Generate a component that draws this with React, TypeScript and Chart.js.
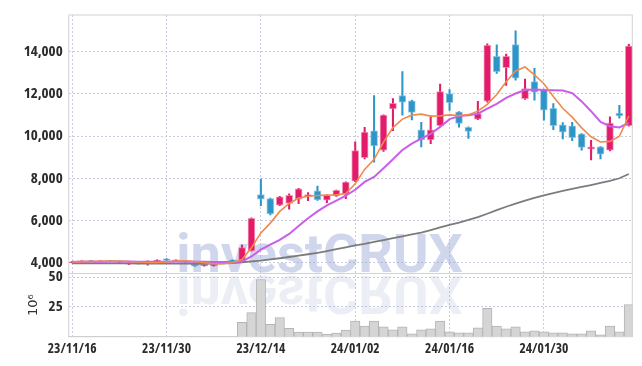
import React, { useEffect, useRef } from 'react';
import { Chart, registerables } from 'chart.js';

Chart.register(...registerables);

const dates = [
  '23/11/16', '23/11/17', '23/11/20', '23/11/21', '23/11/22', '23/11/23', '23/11/24', '23/11/27', '23/11/28', '23/11/29',
  '23/11/30', '23/12/01', '23/12/04', '23/12/05', '23/12/06', '23/12/07', '23/12/08', '23/12/11', '23/12/12', '23/12/13',
  '23/12/14', '23/12/15', '23/12/18', '23/12/19', '23/12/20', '23/12/21', '23/12/22', '23/12/26', '23/12/27', '23/12/28',
  '24/01/02', '24/01/03', '24/01/04', '24/01/05', '24/01/08', '24/01/09', '24/01/10', '24/01/11', '24/01/12', '24/01/15',
  '24/01/16', '24/01/17', '24/01/18', '24/01/19', '24/01/22', '24/01/23', '24/01/24', '24/01/25', '24/01/26', '24/01/29',
  '24/01/30', '24/01/31', '24/02/01', '24/02/02', '24/02/05', '24/02/06', '24/02/07', '24/02/08', '24/02/13', '24/02/14',
];

const opens = [4000, 4030, 4100, 4060, 4090, 4080, 3930, 4010, 3980, 4060, 4180, 4080, 4090, 3950, 3850, 3850, 3980, 4130, 4060, 4558,
  7223, 7037, 6725, 6805, 7005, 7130, 7409, 6958, 7163, 7237, 7860, 8977, 10246, 9330, 11283, 11921, 11674, 10293, 9814, 10493,
  12014, 11144, 10418, 10804, 11655, 13781, 13237, 14339, 11767, 12586, 12200, 11316, 10526, 10479, 10107, 9377, 9488, 9330, 11083, 10493];
const highs = [4060, 4100, 4110, 4100, 4100, 4090, 4000, 4020, 4090, 4130, 4190, 4140, 4100, 3960, 3930, 3940, 4070, 4140, 4837, 6120,
  7967, 7060, 7140, 7260, 7520, 7320, 7628, 7220, 7440, 7830, 9721, 10418, 11921, 11010, 11770, 13051, 11700, 10650, 10958, 12465,
  12200, 11160, 10440, 11650, 14370, 14325, 13880, 14990, 12697, 13209, 12220, 11540, 10640, 10650, 10120, 9800, 9500, 10911, 11456, 14340];
const lows = [3990, 4020, 4050, 4050, 4050, 4000, 3910, 3940, 3880, 4050, 4100, 4070, 4000, 3820, 3830, 3840, 3960, 4050, 4040, 4540,
  6698, 6260, 6700, 6540, 6800, 6940, 6950, 6840, 7140, 7030, 7840, 8912, 8758, 9270, 10260, 10990, 10770, 9490, 9640, 10450,
  11220, 10420, 9890, 10780, 11600, 12970, 12400, 12650, 11740, 11700, 10758, 10300, 9860, 9780, 9330, 8865, 8912, 9300, 10850, 10470];
const closes = [4040, 4090, 4060, 4090, 4060, 4020, 3980, 3960, 4080, 4120, 4110, 4130, 4010, 3840, 3920, 3920, 4060, 4060, 4712, 6107,
  7005, 6307, 7116, 7191, 7502, 7223, 6977, 7191, 7423, 7814, 9316, 10186, 9535, 10990, 11548, 11609, 11116, 9814, 10293, 12107,
  11581, 10604, 10214, 11070, 14293, 13051, 13781, 12744, 12246, 12074, 11223, 10493, 10186, 9921, 9456, 9488, 9144, 10618, 10958, 14262];

const ma5 = [4030, 4050, 4060, 4070, 4075, 4075, 4055, 4030, 4010, 4010, 4040, 4080, 4090, 4060, 4000, 3950, 3950, 4000, 4150, 4710,
  5410, 5875, 6430, 6805, 7060, 7150, 7180, 7200, 7220, 7280, 7740, 8420, 8900, 9711, 10400, 10804, 10990, 11037, 10944, 10958,
  11004, 10967, 11014, 11180, 11500, 11967, 12572, 13083, 13270, 12898, 12479, 11875, 11316, 10897, 10386, 9967, 9721, 9749, 9990, 10950];
const ma20 = [4040, 4045, 4050, 4050, 4052, 4055, 4052, 4048, 4045, 4045, 4048, 4052, 4055, 4050, 4040, 4030, 4028, 4035, 4060, 4293,
  4619, 4851, 5084, 5363, 5735, 6107, 6432, 6711, 6944, 7177, 7456, 7828, 8060, 8479, 8898, 9339, 9642, 9880, 10107, 10432,
  10800, 10944, 10990, 11060, 11300, 11525, 11805, 12014, 12177, 12200, 12186, 12167, 12153, 12037, 11642, 11177, 10665, 10465, 10409, 10618];
const ma60 = [3970, 3970, 3970, 3970, 3970, 3970, 3965, 3960, 3960, 3960, 3960, 3960, 3955, 3950, 3950, 3955, 3965, 3975, 4020, 4060,
  4100, 4160, 4210, 4270, 4330, 4400, 4470, 4550, 4640, 4730, 4820, 4890, 4990, 5070, 5160, 5250, 5340, 5420, 5540, 5670,
  5790, 5900, 6030, 6160, 6320, 6490, 6650, 6800, 6940, 7070, 7190, 7300, 7400, 7500, 7590, 7680, 7780, 7880, 8000, 8200];

const volumes = [0.3, 0.3, 0.3, 0.3, 0.3, 0.3, 0.3, 0.3, 0.3, 0.3, 0.3, 0.3, 0.3, 0.3, 0.3, 0.3, 0.3, 0.3, 12, 20.2,
  48, 10.4, 16.1, 7.1, 3.8, 3.8, 3.8, 2.2, 3, 5.5, 13, 9, 13, 8.2, 5.7, 8.2, 2.5, 5.7, 6.6, 13,
  4.1, 3.3, 3.3, 7.4, 23.8, 9, 6.6, 8.2, 4.1, 4.9, 4.1, 3.3, 3.3, 2.5, 2.5, 4.9, 1.6, 9, 4.1, 27];

const xTickIndices = [0, 10, 20, 30, 40, 50];
const priceTicks = [4000, 6000, 8000, 10000, 12000, 14000];
const volumeTicks = [25, 50];

const RED = '#e31c6a';
const RED_EDGE = 'rgba(236,120,165,0.75)';
const BLUE = '#2e95c8';
const BLUE_EDGE = 'rgba(120,185,222,0.75)';
const GRID = '#c9cce0';
const X_FONT = { family: '"Open Sans", sans-serif', weight: '700 condensed', size: 13.5 };
const Y_FONT = { family: '"Open Sans", sans-serif', weight: '700 condensed', size: 15 };

const watermarkPlugin = {
  id: 'watermark',
  beforeDatasetsDraw(chart: any) {
    const { ctx, chartArea, scales } = chart;
    const baseY = scales.y.bottom;
    const cx = chartArea.left + chartArea.width * 0.445;
    ctx.save();
    ctx.font = 'bold 54px Roboto, "Liberation Sans", sans-serif';
    ctx.textAlign = 'center';
    ctx.textBaseline = 'alphabetic';
    ctx.fillStyle = 'rgba(155,168,212,0.47)';
    ctx.fillText('investCRUX', cx, baseY - 1);
    ctx.translate(0, 2 * baseY + 3);
    ctx.scale(1, -1);
    ctx.fillStyle = 'rgba(160,172,212,0.2)';
    ctx.fillText('investCRUX', cx, baseY);
    ctx.restore();

    ctx.save();
    ctx.strokeStyle = '#d2d2d2';
    ctx.lineWidth = 1;
    ctx.strokeRect(chartArea.left, chartArea.top, chartArea.right - chartArea.left, chartArea.bottom - chartArea.top);
    ctx.beginPath();
    ctx.moveTo(chartArea.left, baseY);
    ctx.lineTo(chartArea.right, baseY);
    ctx.stroke();
    ctx.restore();
  },
};

export default function App() {
  const ref = useRef<HTMLCanvasElement>(null);
  useEffect(() => {
    if (!ref.current) return;
    const idx = dates.map((_, i) => i);
    const up = (i: number) => closes[i] >= opens[i];
    const chart = new Chart(ref.current, {
      type: 'bar',
      data: {
        datasets: [
          { type: 'line', data: idx.map(i => ({ x: i, y: ma5[i] })), borderColor: '#ef8a4e', borderWidth: 1.6, pointRadius: 0, yAxisID: 'y', order: 0 } as any,
          { type: 'line', data: idx.map(i => ({ x: i, y: ma20[i] })), borderColor: '#c95ee8', borderWidth: 2, pointRadius: 0, yAxisID: 'y', order: 0 } as any,
          { type: 'line', data: idx.map(i => ({ x: i, y: ma60[i] })), borderColor: '#7c7c7c', borderWidth: 1.8, pointRadius: 0, yAxisID: 'y', order: 0 } as any,
          {
            type: 'bar', data: idx.map(i => ({ x: i, y: [opens[i], closes[i]] })),
            backgroundColor: idx.map(i => (up(i) ? RED : BLUE)), borderColor: idx.map(i => (up(i) ? RED_EDGE : BLUE_EDGE)),
            borderWidth: 1, borderSkipped: false, barThickness: 7, grouped: false, yAxisID: 'y', order: 1,
          } as any,
          {
            type: 'bar', data: idx.map(i => ({ x: i, y: [lows[i], highs[i]] })),
            backgroundColor: idx.map(i => (up(i) ? RED : BLUE)), borderWidth: 0, barThickness: 1.4, grouped: false, yAxisID: 'y', order: 2,
          } as any,
          {
            type: 'bar', data: idx.map(i => ({ x: i, y: volumes[i] })),
            backgroundColor: '#d5d5d5', borderColor: '#b4b4b4', borderWidth: 1, barPercentage: 1, categoryPercentage: 1,
            grouped: false, yAxisID: 'y2', order: 3,
          } as any,
        ],
      },
      options: {
        animation: false,
        responsive: false,
        layout: { padding: { left: 0, right: 9.7, top: 9, bottom: 0 } },
        plugins: { legend: { display: false }, tooltip: { enabled: false } },
        scales: {
          x: {
            type: 'linear', min: -0.37, max: 59.37, offset: false,
            afterBuildTicks: (axis: any) => { axis.ticks = xTickIndices.map(v => ({ value: v })); },
            afterFit: (s: any) => { s.height = 29.3; },
            ticks: { callback: (v: any) => dates[v], autoSkip: false, maxRotation: 0, padding: 4, font: X_FONT, color: '#2b2b2b' },
            grid: { color: GRID, drawTicks: false, offset: false },
            border: { display: false, dash: [2, 2] },
          },
          y2: {
            type: 'linear', position: 'left', stack: 'v', stackWeight: 1, min: 0, max: 53,
            afterBuildTicks: (axis: any) => { axis.ticks = volumeTicks.map(v => ({ value: v })); },
            afterFit: (s: any) => { s.width = 68.7; },
            ticks: { padding: 6, font: Y_FONT, color: '#2b2b2b' },
            title: { display: true, text: '10⁶', color: '#333', font: { family: '"DejaVu Sans", sans-serif', size: 13 }, padding: { top: 26, bottom: 0 } },
            grid: { color: GRID, drawTicks: false },
            border: { display: false, dash: [2, 2] },
          },
          y: {
            type: 'linear', position: 'left', stack: 'v', stackWeight: 4.09, min: 3488, max: 15735,
            afterBuildTicks: (axis: any) => { axis.ticks = priceTicks.map(v => ({ value: v })); },
            afterFit: (s: any) => { s.width = 68.7; },
            ticks: { callback: (v: any) => Number(v).toLocaleString('en-US'), padding: 6, font: Y_FONT, color: '#2b2b2b' },
            grid: { color: GRID, drawTicks: false },
            border: { display: false, dash: [2, 2] },
          },
        },
      } as any,
      plugins: [watermarkPlugin],
    });
    return () => chart.destroy();
  }, []);
  return (
    <div style={{ position: 'fixed', left: 0, top: 0, width: 642, height: 366 }}>
      <canvas ref={ref} width={642} height={366} style={{ display: 'block' }} />
    </div>
  );
}
